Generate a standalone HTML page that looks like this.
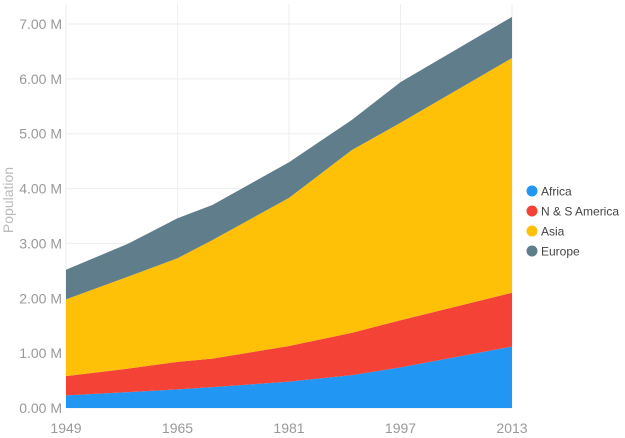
<!DOCTYPE html>
<html><head><meta charset="utf-8"><style>
html,body{margin:0;padding:0;background:#fff;}
svg{display:block;font-family:"Liberation Sans",sans-serif;}
</style></head><body>
<svg id="chart" width="625" height="438"></svg>
<script>
const years=[1949,1958,1965,1970,1981,1990,1997,2013];
const africa=[0.23,0.29,0.34,0.38,0.48,0.60,0.74,1.12];
const america=[0.35,0.43,0.50,0.52,0.65,0.77,0.86,0.98];
const asia=[1.40,1.68,1.89,2.16,2.70,3.33,3.60,4.28];
const europe=[0.54,0.60,0.73,0.64,0.65,0.55,0.74,0.75];
const yTicks=[0,1,2,3,4,5,6,7];
const xTicks=[1949,1965,1981,1997,2013];
const seriesNames=["Africa","N & S America","Asia","Europe"];
const colors=["#2196F3","#F44336","#FFC107","#607D8B"];

const NS="http://www.w3.org/2000/svg";
const svg=document.getElementById('chart');
const x0=66,x1=512,y0=408,yTop=24;
const xs=v=>x0+(v-1949)/(2013-1949)*(x1-x0);
const ys=v=>y0-v/7*(y0-yTop);
function mk(t,a){const e=document.createElementNS(NS,t);for(const k in a)e.setAttribute(k,a[k]);svg.appendChild(e);return e;}

yTicks.forEach(t=>{
  const g=mk('line',{x1:x0,x2:x1,y1:ys(t),y2:ys(t),stroke:'#eeeeee','stroke-width':1});
  
  
  const l=mk('text',{x:62,y:ys(t)+5,'text-anchor':'end','font-size':14,fill:'#999'});
  l.textContent=t.toFixed(2)+' M';
  
  
});
xTicks.forEach(t=>{
  const g=mk('line',{x1:xs(t),x2:xs(t),y1:yTop-20,y2:y0,stroke:'#eeeeee','stroke-width':1});
  
  
  const l=mk('text',{x:xs(t),y:433,'text-anchor':'middle','font-size':14,fill:'#999'});
  l.textContent=t;
  
  
});

const all=[africa,america,asia,europe];
let base=years.map(()=>0);
all.forEach((s,i)=>{
  const top=base.map((b,j)=>b+s[j]);
  let d='M'+years.map((y,j)=>xs(y)+','+ys(top[j])).join(' L');
  for(let j=years.length-1;j>=0;j--) d+=' L'+xs(years[j])+','+ys(base[j]);
  d+=' Z';
  const p=mk('path',{d:d,fill:colors[i]});
  
  
  base=top;
});

const yt=mk('text',{x:0,y:0,transform:'translate(13,200) rotate(-90)','text-anchor':'middle','font-size':14,fill:'#bbb'});
yt.textContent='Population';



seriesNames.forEach((n,i)=>{
  const cy=191+i*20;
  const c=mk('circle',{cx:532,cy:cy,r:5.5,fill:colors[i]});
  
  
  const t=mk('text',{x:541,y:cy+4.5,'font-size':12,fill:'#444'});
  t.textContent=n;
  
  
});
</script>
</body></html>
